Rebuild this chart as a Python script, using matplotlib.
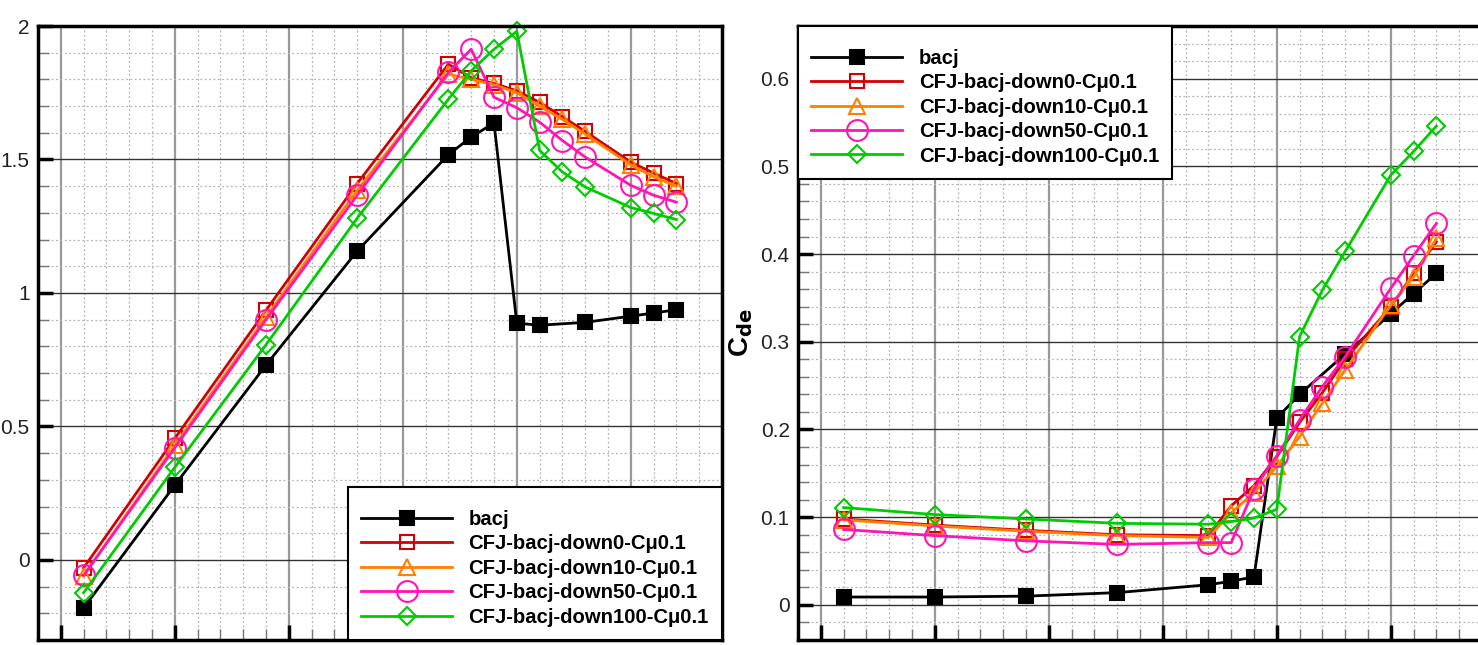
import numpy as np
import matplotlib.pyplot as plt
from matplotlib.ticker import MultipleLocator, FuncFormatter

plt.rcParams['font.family'] = ['Liberation Sans', 'DejaVu Sans']

# angle of attack
alpha_base = [-4, 0, 4, 8, 12, 13, 14, 15, 16, 18, 20, 21, 22]
alpha_cfj = [-4, 0, 4, 8, 12, 13, 14, 15, 16, 17, 18, 20, 21, 22]

# lift coefficient (left panel)
cl_bacj = [-0.18, 0.28, 0.73, 1.157, 1.518, 1.584, 1.637, 0.887, 0.879, 0.89, 0.913, 0.925, 0.937]
cl_down0 = [-0.03, 0.455, 0.935, 1.41, 1.857, 1.806, 1.785, 1.757, 1.714, 1.66, 1.605, 1.49, 1.449, 1.41]
cl_down10 = [-0.06, 0.43, 0.91, 1.385, 1.82, 1.80, 1.78, 1.75, 1.70, 1.65, 1.595, 1.48, 1.435, 1.40]
cl_down50 = [-0.058, 0.42, 0.9, 1.366, 1.826, 1.913, 1.733, 1.694, 1.64, 1.571, 1.509, 1.403, 1.366, 1.34]
cl_down100 = [-0.123, 0.347, 0.806, 1.28, 1.726, 1.832, 1.913, 1.98, 1.534, 1.453, 1.397, 1.32, 1.298, 1.275]

# Cde (right panel)
cde_bacj = [0.009, 0.009, 0.01, 0.014, 0.023, 0.027, 0.032, 0.213, 0.24, 0.286, 0.332, 0.355, 0.378]
cde_down0 = [0.098, 0.091, 0.085, 0.08, 0.079, 0.113, 0.136, 0.169, 0.208, 0.242, 0.28, 0.34, 0.378, 0.414]
cde_down10 = [0.097, 0.09, 0.084, 0.079, 0.077, 0.105, 0.128, 0.158, 0.192, 0.23, 0.268, 0.342, 0.374, 0.418]
cde_down50 = [0.086, 0.079, 0.073, 0.069, 0.071, 0.071, 0.132, 0.17, 0.211, 0.249, 0.283, 0.361, 0.398, 0.435]
cde_down100 = [0.111, 0.103, 0.098, 0.093, 0.092, 0.095, 0.099, 0.109, 0.306, 0.359, 0.403, 0.49, 0.517, 0.546]

labels = ['bacj', 'CFJ-bacj-down0-Cμ0.1', 'CFJ-bacj-down10-Cμ0.1',
          'CFJ-bacj-down50-Cμ0.1', 'CFJ-bacj-down100-Cμ0.1']
colors = ['black', '#d40000', '#ff8000', '#ff14b4', '#00cc00']
markers = ['s', 's', '^', 'o', 'D']
sizes = [10, 10, 11, 15, 9.5]


def style_axes(ax, ymin, ymax, ymaj, ymin_step):
    ax.set_xlim(-6, 24)
    ax.set_ylim(ymin, ymax)
    ax.xaxis.set_major_locator(MultipleLocator(5))
    ax.xaxis.set_minor_locator(MultipleLocator(1))
    ax.yaxis.set_major_locator(MultipleLocator(ymaj))
    ax.yaxis.set_minor_locator(MultipleLocator(ymin_step))
    ax.yaxis.set_major_formatter(FuncFormatter(lambda v, p: '%g' % round(v, 3)))
    ax.tick_params(axis='x', which='both', labelbottom=False)
    ax.tick_params(which='major', direction='in', length=11, width=2.5,
                   labelsize=15, colors='black', labelcolor='#222222', pad=6)
    ax.tick_params(which='minor', direction='in', length=8, width=1, colors='#777777')
    ax.tick_params(top=False, right=False)
    ax.grid(True, which='major', axis='y', color='#333333', lw=1.0)
    ax.grid(True, which='major', axis='x', color='#999999', lw=1.6)
    ax.grid(True, which='minor', color='#b4b4b4', lw=0.9, ls=(0, (1.5, 2)))
    ax.set_axisbelow(True)
    for s in ax.spines.values():
        s.set_linewidth(2.5)
        s.set_color('black')


fig = plt.figure(figsize=(14.78, 6.45), dpi=100)
ax1 = fig.add_axes([38 / 1478, 5 / 645, 684 / 1478, 614 / 645])
ax2 = fig.add_axes([798 / 1478, 5 / 645, 684 / 1478, 614 / 645])

left_data = [cl_bacj, cl_down0, cl_down10, cl_down50, cl_down100]
right_data = [cde_bacj, cde_down0, cde_down10, cde_down50, cde_down100]

for i in range(5):
    xs = alpha_base if i == 0 else alpha_cfj
    fill = 'black' if i == 0 else 'none'
    ax1.plot(xs, left_data[i], color=colors[i], marker=markers[i], ms=sizes[i],
             mfc=fill, mec=colors[i], mew=1.5, lw=2, label=labels[i], clip_on=False)
    ax2.plot(xs, right_data[i], color=colors[i], marker=markers[i], ms=sizes[i],
             mfc=fill, mec=colors[i], mew=1.5, lw=2, label=labels[i])

style_axes(ax1, -0.3, 2.0, 0.5, 0.1)
style_axes(ax2, -0.04, 0.66, 0.1, 0.02)

ax2.set_ylabel('C$_{\\mathbf{de}}$', fontsize=20, fontweight='bold', labelpad=4)

leg_kw = dict(prop={'weight': 'bold', 'size': 14.6}, frameon=True, fancybox=False,
              framealpha=1, edgecolor='black', handlelength=4.5, labelspacing=0.27,
              borderaxespad=0, borderpad=0.65, handletextpad=0.8,
              title=' ', title_fontsize=3)
lg1 = ax1.legend(loc='lower right', **leg_kw)
lg1.get_frame().set_linewidth(1.5)
lg2 = ax2.legend(loc='upper left', **leg_kw)
lg2.get_frame().set_linewidth(1.5)

fig.savefig('out.png', dpi=100)
